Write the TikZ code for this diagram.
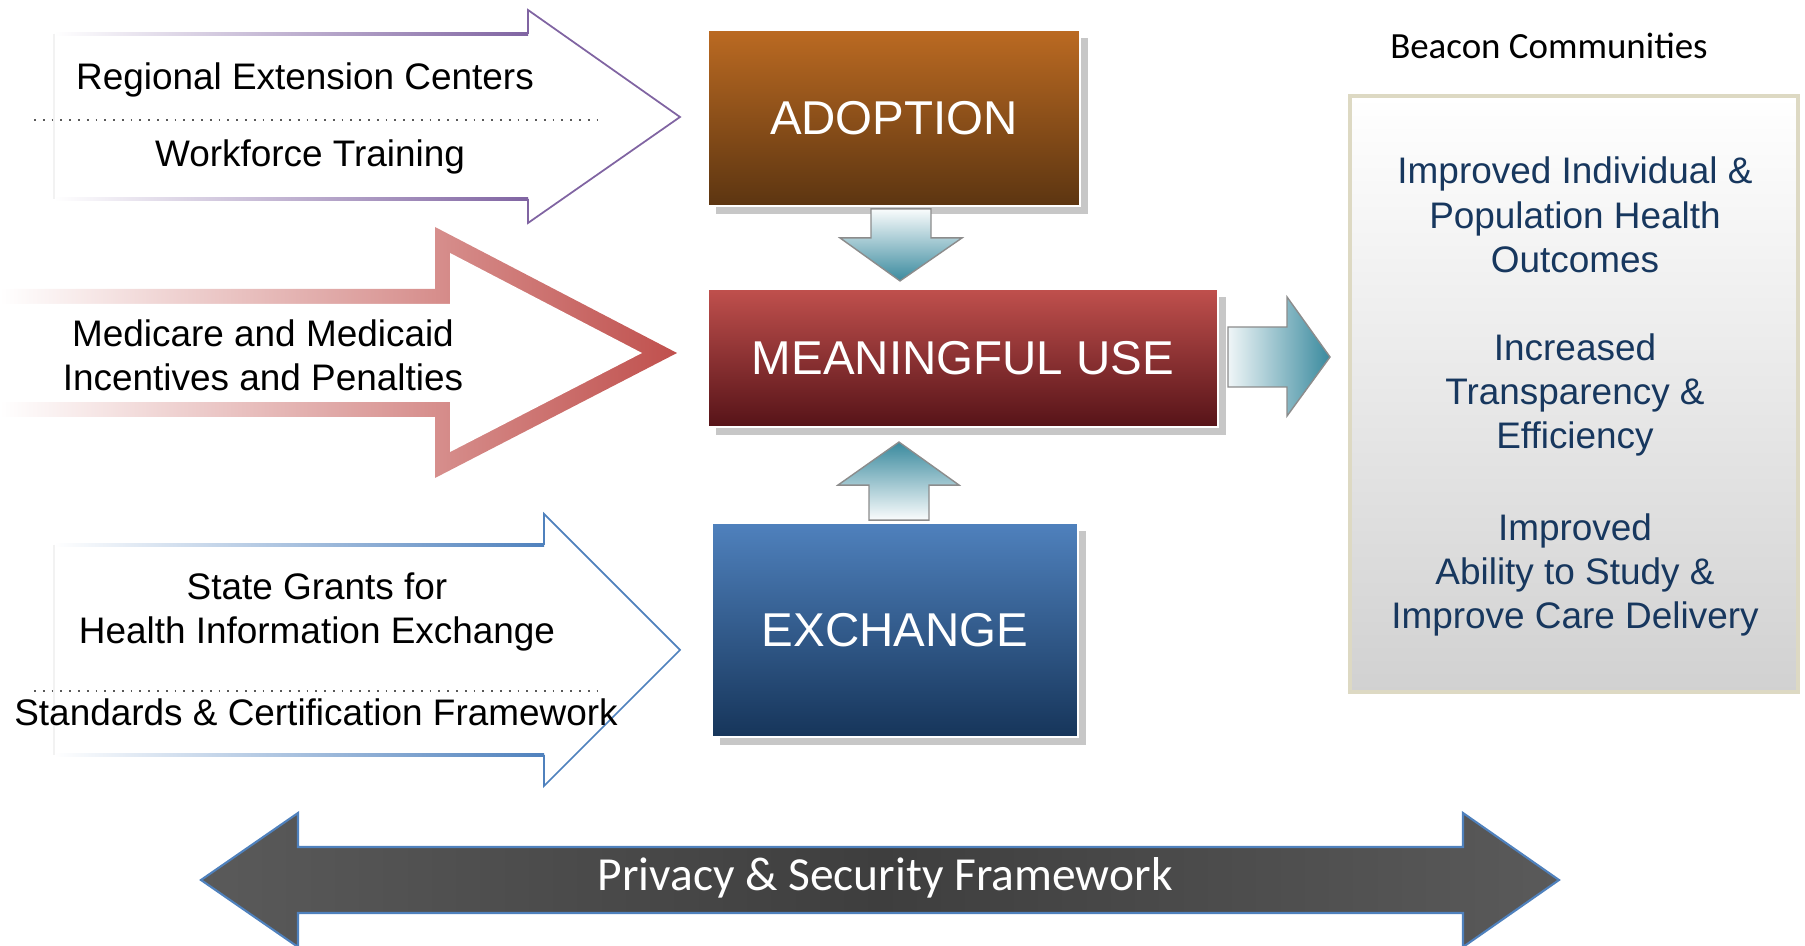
\documentclass[tikz,border=0pt]{standalone}
\usepackage{fontspec}
\setmainfont{Liberation Sans}
\newfontfamily\calibri{Carlito}
\usetikzlibrary{shadows}

\definecolor{recline}{HTML}{8064A2}
\definecolor{incred}{HTML}{C0504D}
\definecolor{hieline}{HTML}{4F81BD}
\definecolor{adoptop}{HTML}{BB6A22}
\definecolor{adopbot}{HTML}{5C3511}
\definecolor{mutop}{HTML}{C0504D}
\definecolor{mubot}{HTML}{561318}
\definecolor{extop}{HTML}{4F81BD}
\definecolor{exbot}{HTML}{16355A}
\definecolor{feedteal}{HTML}{3A8A9E}
\definecolor{beaconline}{HTML}{DDD9C3}
\definecolor{goaltext}{HTML}{17375E}
\definecolor{privgray}{HTML}{5A5A5A}
\definecolor{privdark}{HTML}{3E3E3E}

\tikzset{
  block/.style={draw=white, line width=0.5pt, text=white, font=\fontsize{13.5}{16}\selectfont,
    drop shadow={shadow xshift=0.08cm, shadow yshift=-0.08cm, fill=black!22, opacity=1}},
  label/.style={align=center, font=\fontsize{10.5}{12.6}\selectfont},
  goal/.style={label, text=goaltext},
  feed/.style={draw=black!45, line width=0.4pt}
}

\begin{document}
\begin{tikzpicture}[x=0.01cm, y=-0.01cm]
    \useasboundingbox (0,0) rectangle (1805,946);

    \node[block, top color=adoptop, bottom color=adopbot, minimum width=3.72cm, minimum height=1.76cm] (adopt) at (894,118) {ADOPTION};
    \node[block, top color=mutop, bottom color=mubot, minimum width=5.1cm, minimum height=1.38cm] (mu) at (963,358) {MEANINGFUL USE};
    \node[block, top color=extop, bottom color=exbot, minimum width=3.66cm, minimum height=2.14cm] (exch) at (895,630) {EXCHANGE};

    \shadedraw[feed, top color=white, bottom color=feedteal]
    (adopt.south) ++(-23,2) -- ++(60,0) -- ++(0,29) -- ++(31,0) -- ++(-62,43) -- ++(-60,-43) -- ++(31,0) -- cycle;
    \shadedraw[feed, top color=feedteal, bottom color=white]
    (exch.north) ++(-26,-2) -- ++(0,-35) -- ++(-31,0) -- ++(61,-43) -- ++(60,43) -- ++(-30,0) -- ++(0,35) -- cycle;
    \shadedraw[feed, left color=white, right color=feedteal]
    (mu.east) ++(9,-31) -- ++(59,0) -- ++(0,-30) -- ++(43,60) -- ++(-43,59) -- ++(0,-29) -- ++(-59,0) -- cycle;

    \node[draw=beaconline, line width=1.1pt, top color=white, bottom color=black!18, minimum width=4.48cm, minimum height=5.95cm] (beacon) at (1574,394) {};
    \node[font=\calibri\fontsize{10.5}{12.6}\selectfont] (beaconlbl) at (1549,46) {Beacon Communities};
    \node[goal] (goal1) at (1575,215) {Improved Individual \&\\Population Health\\Outcomes};
    \node[goal] (goal2) at (1575,395) {Increased\\Transparency \&\\Efficiency};
    \node[goal] (goal3) at (1575,575) {Improved\\Ability to Study \&\\Improve Care Delivery};

    \shade[left color=white, right color=recline] (54,33) rectangle (528,35.5);
    \shade[left color=white, right color=recline] (54,198) rectangle (528,200.5);
    \draw[black!5] (54,34) -- (54,199);
    \draw[recline, line width=0.5pt] (528,34) -- (528,10) -- (680,117) -- (528,223) -- (528,199);
    \draw[dotted, black!65, line width=0.5pt] (34,120) -- (604,120);
    \node[label] (rec) at (305,80) {Regional Extension Centers};
    \node[label] (wft) at (310,157) {Workforce Training};

    \shade[left color=white, right color=incred] (0,289) -- (435,289) -- (435,227) -- (677,353) -- (435,478) -- (435,417) -- (0,417) -- cycle;
    \fill[white] (0,304) -- (450,304) -- (450,253) -- (642,353) -- (450,452) -- (450,402) -- (0,402) -- cycle;
    \node[label] (incent) at (263,355) {Medicare and Medicaid\\Incentives and Penalties};

    \shade[left color=white, right color=hieline] (54,544) rectangle (544,546.5);
    \shade[left color=white, right color=hieline] (54,754) rectangle (544,756.5);
    \draw[black!5] (54,545) -- (54,755);
    \draw[hieline, line width=0.5pt] (544,545) -- (544,514) -- (680,650) -- (544,786) -- (544,755);
    \draw[dotted, black!65, line width=0.5pt] (34,691) -- (604,691);
    \node[label] (grants) at (317,612) {State Grants for\\Health Information Exchange};
    \node[label] (stds) at (316,712) {Standards \& Certification Framework};

    \shadedraw[left color=privgray, right color=privgray, middle color=privdark, draw=hieline, line width=0.6pt]
    (201,880) -- (298,813) -- (298,847) -- (1463,847) -- (1463,813) -- (1559,880)
    -- (1463,947) -- (1463,913) -- (298,913) -- (298,947) -- cycle;
    \node[text=white, font=\calibri\fontsize{13.5}{16}\selectfont] (privacy) at (885,878) {Privacy \& Security Framework};
\end{tikzpicture}
\end{document}
